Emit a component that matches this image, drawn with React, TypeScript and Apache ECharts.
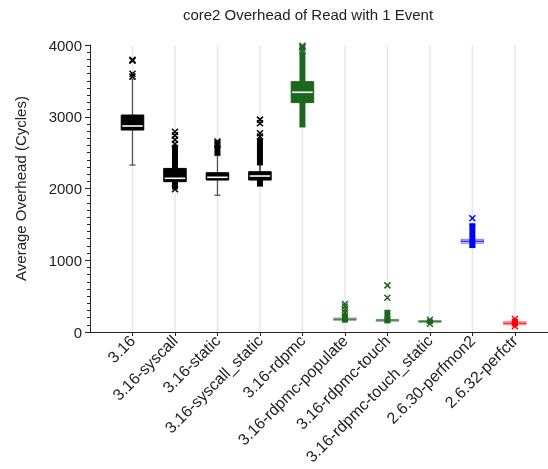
import React, { useEffect, useRef } from 'react';
import * as echarts from 'echarts';

const categories = [
  '3.16',
  '3.16-syscall',
  '3.16-static',
  '3.16-syscall_static',
  '3.16-rdpmc',
  '3.16-rdpmc-populate',
  '3.16-rdpmc-touch',
  '3.16-rdpmc-touch_static',
  '2.6.30-perfmon2',
  '2.6.32-perfctr',
];
const q1 = [2815, 2095, 2118, 2118, 3197, 162, 152, 135, 1236, 100];
const medians = [2871, 2142, 2156, 2174, 3341, 178, 165, 148, 1264, 121];
const q3 = [3024, 2280, 2220, 2234, 3489, 196, 176, 160, 1292, 144];
const whiskerLow = [2327, 1995, 1905, 2035, 2860, 150, 140, 125, 1200, 90];
const whiskerHigh = [3526, 2280, 2460, 2330, 3489, 230, 200, 170, 1500, 170];
// ranges where outliers are so dense they merge into a solid column
const denseBands: number[][][] = [
  [],
  [[1995, 2095], [2280, 2610]],
  [[2460, 2600]],
  [[2035, 2118], [2330, 2700]],
  [[2860, 3197], [3489, 3900]],
  [[130, 262]],
  [[120, 310]],
  [[110, 175]],
  [[1170, 1515]],
  [[78, 185]],
];
const fliers: number[][] = [
  [3560, 3600, 3780, 3795],
  [1990, 2620, 2680, 2740, 2790],
  [2610, 2630, 2655],
  [2725, 2770, 2910, 2960],
  [3920, 3950, 3975, 3990],
  [270, 310, 355, 390],
  [478, 650],
  [115, 170],
  [1585],
  [80, 180],
];
const yTicks = [0, 1000, 2000, 3000, 4000];

// styles
const colors = ['#000000', '#000000', '#000000', '#000000', '#1d661d', '#1d661d', '#1d661d', '#1d661d', '#0000ff', '#ff0000'];
const whiskerColors = ['#555555', '#000000', '#555555', '#111111', '#1d661d', '#1d661d', '#1d661d', '#1d661d', '#0000ff', '#ff0000'];
const FONT = '"Liberation Sans", Arial, Helvetica, sans-serif';

function rgba(hex: string, a: number) {
  const r = parseInt(hex.slice(1, 3), 16);
  const g = parseInt(hex.slice(3, 5), 16);
  const b = parseInt(hex.slice(5, 7), 16);
  return `rgba(${r},${g},${b},${a})`;
}

export default function App() {
  const ref = useRef<HTMLDivElement>(null);
  useEffect(() => {
    if (!ref.current) return;
    const chart = echarts.init(ref.current, undefined, { renderer: 'svg' });
    const positions = categories.map((_, i) => i + 1);

    const boxData = categories.map((_, i) => [i + 1, q1[i], medians[i], q3[i], whiskerLow[i], whiskerHigh[i]]);
    const flierData: number[][] = [];
    fliers.forEach((arr, i) => arr.forEach((v) => flierData.push([i + 1, v, i])));

    const boxRender = (params: any, api: any) => {
      const i = params.dataIndex;
      const x = api.value(0);
      const color = colors[i];
      const wc = whiskerColors[i];
      const [cx, yq1] = api.coord([x, api.value(1)]);
      const ymed = api.coord([x, api.value(2)])[1];
      const yq3 = api.coord([x, api.value(3)])[1];
      const ywl = api.coord([x, api.value(4)])[1];
      const ywh = api.coord([x, api.value(5)])[1];
      const bw = api.size([0.53, 0])[0];
      const half = bw / 2;
      const children: any[] = [];
      if (ywl > yq1 + 0.5) {
        children.push({ type: 'line', shape: { x1: cx, y1: yq1, x2: cx, y2: ywl }, style: { stroke: wc, lineWidth: 1.3 } });
        children.push({ type: 'line', shape: { x1: cx - 3, y1: ywl, x2: cx + 3, y2: ywl }, style: { stroke: wc, lineWidth: 1.3 } });
      }
      if (ywh < yq3 - 0.5) {
        children.push({ type: 'line', shape: { x1: cx, y1: yq3, x2: cx, y2: ywh }, style: { stroke: wc, lineWidth: 1.3 } });
        children.push({ type: 'line', shape: { x1: cx - 3, y1: ywh, x2: cx + 3, y2: ywh }, style: { stroke: wc, lineWidth: 1.3 } });
      }
      denseBands[i].forEach((band) => {
        const yLo = api.coord([x, band[0]])[1];
        const yHi = api.coord([x, band[1]])[1];
        children.push({
          type: 'rect',
          shape: { x: cx - 3, y: yHi, width: 6, height: Math.max(1, yLo - yHi) },
          style: { fill: color },
        });
      });
      const solid = yq1 - yq3 > 5;
      if (solid) {
        children.push({
          type: 'rect',
          shape: { x: cx - half, y: yq3, width: bw, height: yq1 - yq3 },
          style: { fill: color, stroke: color, lineWidth: 1 },
        });
        children.push({
          type: 'line',
          shape: { x1: cx - half + 1, y1: ymed, x2: cx + half - 1, y2: ymed },
          style: { stroke: '#ffffff', lineWidth: 1.6 },
        });
      } else {
        children.push({
          type: 'rect',
          shape: { x: cx - half, y: yq3, width: bw, height: Math.max(2, yq1 - yq3) },
          style: { fill: rgba(color, 0.2), stroke: rgba(color, 0.45), lineWidth: 1 },
        });
        children.push({
          type: 'line',
          shape: { x1: cx - half, y1: ymed, x2: cx + half, y2: ymed },
          style: { stroke: rgba(color, 0.8), lineWidth: 1.3 },
        });
      }
      return { type: 'group', children };
    };

    const flierRender = (params: any, api: any) => {
      const ci = api.value(2);
      const [px, py] = api.coord([api.value(0), api.value(1)]);
      const s = 3;
      const st = { stroke: colors[ci], lineWidth: 1.5 };
      return {
        type: 'group',
        children: [
          { type: 'line', shape: { x1: px - s, y1: py - s, x2: px + s, y2: py + s }, style: st },
          { type: 'line', shape: { x1: px + s, y1: py - s, x2: px - s, y2: py + s }, style: st },
        ],
      };
    };

    const gridRender = (params: any, api: any) => {
      const cs = params.coordSys;
      const px = api.coord([api.value(0), 0])[0];
      return {
        type: 'line',
        shape: { x1: px, y1: cs.y, x2: px, y2: cs.y + cs.height },
        style: { stroke: '#e6e6e6', lineWidth: 1.4 },
      };
    };

    chart.setOption({
      animation: false,
      textStyle: { fontFamily: FONT },
      grid: { left: 90, right: 0, top: 45, bottom: 137, containLabel: false },
      graphic: [
        {
          type: 'text',
          x: 308,
          y: 14,
          style: {
            text: 'core2 Overhead of Read with 1 Event',
            textAlign: 'center',
            textVerticalAlign: 'middle',
            fontSize: 15,
            fontFamily: FONT,
            fill: '#222',
          },
        },
      ],
      xAxis: {
        type: 'value',
        min: 0,
        max: 10.78,
        interval: 1,
        axisLine: { show: true, onZero: false, lineStyle: { color: '#222', width: 1 } },
        axisTick: { show: true, customValues: positions, length: 4, lineStyle: { color: '#222' } },
        axisLabel: {
          customValues: positions,
          formatter: (v: number) => categories[Math.round(v) - 1] ?? '',
          rotate: 45,
          fontSize: 16,
          margin: 6,
          color: '#222',
          fontFamily: FONT,
        },
        splitLine: { show: false },
      },
      yAxis: {
        type: 'value',
        min: 0,
        max: 4000,
        interval: 1000,
        name: 'Average Overhead (Cycles)',
        nameLocation: 'middle',
        nameGap: 62,
        nameTextStyle: { fontSize: 15, color: '#222', fontFamily: FONT },
        axisLine: { show: true, lineStyle: { color: '#222', width: 1 } },
        axisTick: { show: true, customValues: yTicks, length: 5, lineStyle: { color: '#222' } },
        minorTick: { show: true, splitNumber: 10, length: 3, lineStyle: { color: '#222' } },
        axisLabel: {
          fontSize: 15,
          color: '#222',
          margin: 8,
          fontFamily: FONT,
          formatter: (v: number) => String(v),
        },
        splitLine: { show: false },
      },
      series: [
        { type: 'custom', renderItem: gridRender, data: positions.map((p) => [p]), silent: true, z: 1 },
        { type: 'custom', renderItem: boxRender, data: boxData, z: 2 },
        { type: 'custom', renderItem: flierRender, data: flierData, z: 3 },
      ],
    });
    return () => chart.dispose();
  }, []);
  return <div ref={ref} style={{ position: 'fixed', left: 0, top: 0, width: 548, height: 469 }} />;
}
